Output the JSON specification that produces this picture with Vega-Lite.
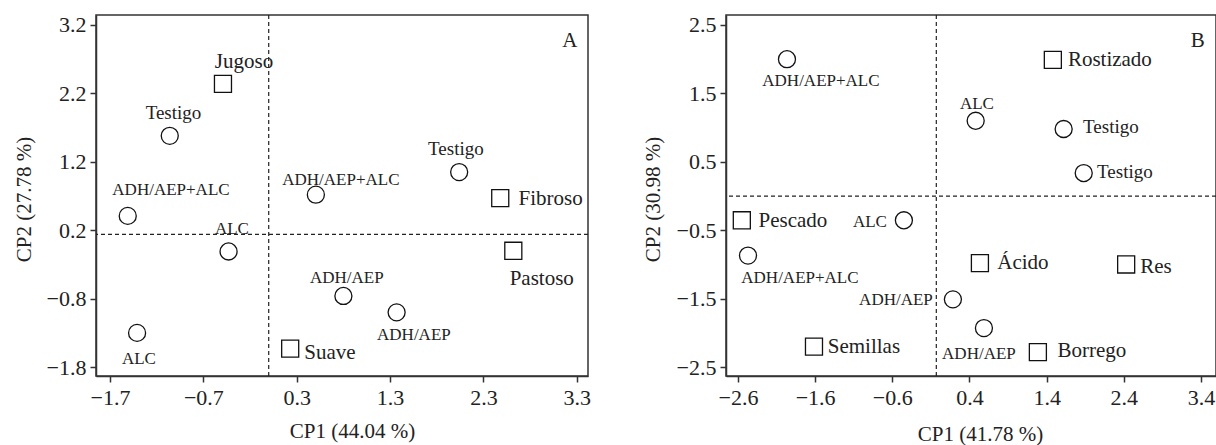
{
  "$schema": "https://vega.github.io/schema/vega-lite/v6.json",
  "background": "white",
  "padding": {"left": 12, "top": 13, "right": 0, "bottom": 0},
  "bounds": "flush",
  "spacing": 138,
  "config": {
    "view": {"stroke": "#333", "strokeWidth": 1.5},
    "axis": {
      "labelFont": "Liberation Serif", "labelFontSize": 22, "labelColor": "#222",
      "titleFont": "Liberation Serif", "titleFontSize": 21, "titleFontWeight": "normal", "titleColor": "#222",
      "grid": false, "tickSize": 6, "tickColor": "#333", "tickWidth": 1.5,
      "domainColor": "#333", "domainWidth": 1.5, "labelFlush": false, "labelOverlap": false, "format": ".1f"
    },
    "text": {"font": "Liberation Serif", "color": "#222"}
  },
  "datasets": {
    "puntos": [
      {"panel": "A", "nombre": "Testigo", "tipo": "testigo", "cp1": -1.06, "cp2": 1.58, "lx": -1.02, "ly": 1.83},
      {"panel": "A", "nombre": "Jugoso", "tipo": "atributo", "cp1": -0.49, "cp2": 2.34, "lx": -0.265, "ly": 2.57},
      {"panel": "A", "nombre": "ADH/AEP+ALC", "tipo": "tratamiento", "cp1": -1.51, "cp2": 0.41, "lx": -1.047, "ly": 0.72},
      {"panel": "A", "nombre": "ALC", "tipo": "tratamiento", "cp1": -0.43, "cp2": -0.11, "lx": -0.394, "ly": 0.15},
      {"panel": "A", "nombre": "ALC", "tipo": "tratamiento", "cp1": -1.41, "cp2": -1.30, "lx": -1.39, "ly": -1.76},
      {"panel": "A", "nombre": "Suave", "tipo": "atributo", "cp1": 0.23, "cp2": -1.53, "lx": 0.655, "ly": -1.676},
      {"panel": "A", "nombre": "ADH/AEP+ALC", "tipo": "tratamiento", "cp1": 0.505, "cp2": 0.72, "lx": 0.773, "ly": 0.864},
      {"panel": "A", "nombre": "Testigo", "tipo": "testigo", "cp1": 2.04, "cp2": 1.05, "lx": 2.005, "ly": 1.30},
      {"panel": "A", "nombre": "Fibroso", "tipo": "atributo", "cp1": 2.48, "cp2": 0.67, "lx": 3.02, "ly": 0.572},
      {"panel": "A", "nombre": "Pastoso", "tipo": "atributo", "cp1": 2.62, "cp2": -0.10, "lx": 2.925, "ly": -0.596},
      {"panel": "A", "nombre": "ADH/AEP", "tipo": "tratamiento", "cp1": 0.80, "cp2": -0.76, "lx": 0.837, "ly": -0.566},
      {"panel": "A", "nombre": "ADH/AEP", "tipo": "tratamiento", "cp1": 1.37, "cp2": -1.00, "lx": 1.555, "ly": -1.40},
      {"panel": "B", "nombre": "ADH/AEP+ALC", "tipo": "tratamiento", "cp1": -1.965, "cp2": 2.0, "lx": -1.525, "ly": 1.608},
      {"panel": "B", "nombre": "Rostizado", "tipo": "atributo", "cp1": 1.48, "cp2": 1.99, "lx": 2.219, "ly": 1.90},
      {"panel": "B", "nombre": "ALC", "tipo": "tratamiento", "cp1": 0.48, "cp2": 1.10, "lx": 0.496, "ly": 1.272},
      {"panel": "B", "nombre": "Testigo", "tipo": "testigo", "cp1": 1.62, "cp2": 0.98, "lx": 2.232, "ly": 0.921},
      {"panel": "B", "nombre": "Testigo", "tipo": "testigo", "cp1": 1.88, "cp2": 0.336, "lx": 2.413, "ly": 0.263},
      {"panel": "B", "nombre": "Pescado", "tipo": "atributo", "cp1": -2.55, "cp2": -0.354, "lx": -1.888, "ly": -0.453},
      {"panel": "B", "nombre": "ALC", "tipo": "tratamiento", "cp1": -0.45, "cp2": -0.354, "lx": -0.89, "ly": -0.453},
      {"panel": "B", "nombre": "ADH/AEP+ALC", "tipo": "tratamiento", "cp1": -2.47, "cp2": -0.87, "lx": -1.797, "ly": -1.272},
      {"panel": "B", "nombre": "Semillas", "tipo": "atributo", "cp1": -1.615, "cp2": -2.2, "lx": -0.968, "ly": -2.295},
      {"panel": "B", "nombre": "Ácido", "tipo": "atributo", "cp1": 0.535, "cp2": -0.98, "lx": 1.092, "ly": -1.067},
      {"panel": "B", "nombre": "Res", "tipo": "atributo", "cp1": 2.43, "cp2": -1.0, "lx": 2.815, "ly": -1.126},
      {"panel": "B", "nombre": "ADH/AEP", "tipo": "tratamiento", "cp1": 0.185, "cp2": -1.51, "lx": -0.553, "ly": -1.594},
      {"panel": "B", "nombre": "ADH/AEP", "tipo": "tratamiento", "cp1": 0.587, "cp2": -1.93, "lx": 0.522, "ly": -2.383},
      {"panel": "B", "nombre": "Borrego", "tipo": "atributo", "cp1": 1.286, "cp2": -2.28, "lx": 1.985, "ly": -2.354}
    ],
    "ejes": [
      {"panel": "A", "orientacion": "vertical", "v": 0.0},
      {"panel": "A", "orientacion": "horizontal", "v": 0.14},
      {"panel": "B", "orientacion": "vertical", "v": -0.03},
      {"panel": "B", "orientacion": "horizontal", "v": 0.0}
    ],
    "letras": [
      {"panel": "A", "letra": "A", "lx": 3.225, "ly": 2.88},
      {"panel": "B", "letra": "B", "lx": 3.358, "ly": 2.178}
    ]
  },
  "hconcat": [
    {
      "width": 492, "height": 361,
      "layer": [
        {
          "data": {"name": "ejes"},
          "transform": [{"filter": "datum.panel === 'A' && datum.orientacion === 'vertical'"}],
          "mark": {"type": "rule", "strokeDash": [4, 3], "strokeWidth": 1.2, "color": "#222"},
          "encoding": {"x": {"field": "v", "type": "quantitative", "scale": {"domain": [-1.85, 3.42], "nice": false, "zero": false}}}
        },
        {
          "data": {"name": "ejes"},
          "transform": [{"filter": "datum.panel === 'A' && datum.orientacion === 'horizontal'"}],
          "mark": {"type": "rule", "strokeDash": [4, 3], "strokeWidth": 1.2, "color": "#222"},
          "encoding": {"y": {"field": "v", "type": "quantitative", "scale": {"domain": [-1.93, 3.346], "nice": false, "zero": false}}}
        },
        {
          "data": {"name": "puntos"},
          "transform": [{"filter": "datum.panel === 'A'"}],
          "mark": {"type": "point", "filled": false, "size": 290, "strokeWidth": 1.3, "color": "#111", "opacity": 1},
          "encoding": {
            "x": {"field": "cp1", "type": "quantitative", "scale": {"domain": [-1.85, 3.42], "nice": false, "zero": false},
                  "axis": {"title": "CP1 (44.04 %)", "values": [-1.7, -0.7, 0.3, 1.3, 2.3, 3.3], "labelPadding": 5, "titleX": 256, "titleY": 61, "titleBaseline": "alphabetic", "titleAnchor": null}},
            "y": {"field": "cp2", "type": "quantitative", "scale": {"domain": [-1.93, 3.346], "nice": false, "zero": false},
                  "axis": {"title": "CP2 (27.78 %)", "values": [-1.8, -0.8, 0.2, 1.2, 2.2, 3.2], "labelPadding": 4, "titleX": -66, "titleY": 184, "titleBaseline": "alphabetic", "titleAlign": "center", "titleAngle": -90}},
            "shape": {"field": "tipo", "type": "nominal", "scale": {"domain": ["tratamiento", "testigo", "atributo"], "range": ["circle", "circle", "square"]}, "legend": null}
          }
        },
        {
          "data": {"name": "puntos"},
          "transform": [{"filter": "datum.panel === 'A'"}],
          "mark": {"type": "text", "align": "center", "baseline": "alphabetic"},
          "encoding": {
            "x": {"field": "lx", "type": "quantitative"},
            "y": {"field": "ly", "type": "quantitative"},
            "text": {"field": "nombre"},
            "size": {"field": "tipo", "type": "nominal", "scale": {"domain": ["tratamiento", "testigo", "atributo"], "range": [17, 21, 21]}, "legend": null}
          }
        },
        {
          "data": {"name": "letras"},
          "transform": [{"filter": "datum.panel === 'A'"}],
          "mark": {"type": "text", "align": "center", "baseline": "alphabetic", "fontSize": 21},
          "encoding": {
            "x": {"field": "lx", "type": "quantitative"},
            "y": {"field": "ly", "type": "quantitative"},
            "text": {"field": "letra"}
          }
        }
      ]
    },
    {
      "width": 490, "height": 361,
      "layer": [
        {
          "data": {"name": "ejes"},
          "transform": [{"filter": "datum.panel === 'B' && datum.orientacion === 'vertical'"}],
          "mark": {"type": "rule", "strokeDash": [4, 3], "strokeWidth": 1.2, "color": "#222"},
          "encoding": {"x": {"field": "v", "type": "quantitative", "scale": {"domain": [-2.755, 3.594], "nice": false, "zero": false}}}
        },
        {
          "data": {"name": "ejes"},
          "transform": [{"filter": "datum.panel === 'B' && datum.orientacion === 'horizontal'"}],
          "mark": {"type": "rule", "strokeDash": [4, 3], "strokeWidth": 1.2, "color": "#222"},
          "encoding": {"y": {"field": "v", "type": "quantitative", "scale": {"domain": [-2.63, 2.646], "nice": false, "zero": false}}}
        },
        {
          "data": {"name": "puntos"},
          "transform": [{"filter": "datum.panel === 'B'"}],
          "mark": {"type": "point", "filled": false, "size": 290, "strokeWidth": 1.3, "color": "#111", "opacity": 1},
          "encoding": {
            "x": {"field": "cp1", "type": "quantitative", "scale": {"domain": [-2.755, 3.594], "nice": false, "zero": false},
                  "axis": {"title": "CP1 (41.78 %)", "values": [-2.6, -1.6, -0.6, 0.4, 1.4, 2.4, 3.4], "labelPadding": 5, "titleX": 254, "titleY": 64, "titleBaseline": "alphabetic", "titleAnchor": null}},
            "y": {"field": "cp2", "type": "quantitative", "scale": {"domain": [-2.63, 2.646], "nice": false, "zero": false},
                  "axis": {"title": "CP2 (30.98 %)", "values": [-2.5, -1.5, -0.5, 0.5, 1.5, 2.5], "labelPadding": 4, "titleX": -67, "titleY": 184, "titleBaseline": "alphabetic", "titleAlign": "center", "titleAngle": -90}},
            "shape": {"field": "tipo", "type": "nominal", "scale": {"domain": ["tratamiento", "testigo", "atributo"], "range": ["circle", "circle", "square"]}, "legend": null}
          }
        },
        {
          "data": {"name": "puntos"},
          "transform": [{"filter": "datum.panel === 'B'"}],
          "mark": {"type": "text", "align": "center", "baseline": "alphabetic"},
          "encoding": {
            "x": {"field": "lx", "type": "quantitative"},
            "y": {"field": "ly", "type": "quantitative"},
            "text": {"field": "nombre"},
            "size": {"field": "tipo", "type": "nominal", "scale": {"domain": ["tratamiento", "testigo", "atributo"], "range": [17, 21, 21]}, "legend": null}
          }
        },
        {
          "data": {"name": "letras"},
          "transform": [{"filter": "datum.panel === 'B'"}],
          "mark": {"type": "text", "align": "center", "baseline": "alphabetic", "fontSize": 21},
          "encoding": {
            "x": {"field": "lx", "type": "quantitative"},
            "y": {"field": "ly", "type": "quantitative"},
            "text": {"field": "letra"}
          }
        }
      ]
    }
  ]
}
